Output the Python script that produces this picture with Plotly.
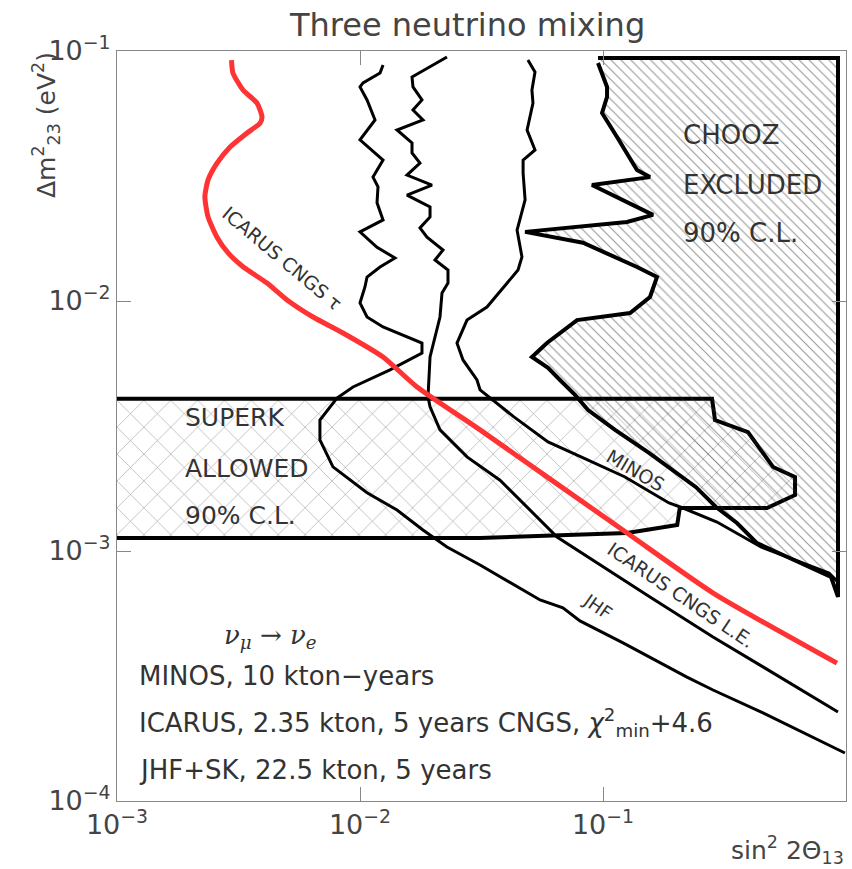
import plotly.graph_objects as go

# ---------------- data ----------------
# ICARUS CNGS tau (red)
icarus_tau_x = [0.00296, 0.00300, 0.00330, 0.00377, 0.00395, 0.00388, 0.00343, 0.00292, 0.00258,
                0.00237, 0.00230, 0.00237, 0.00258, 0.00286, 0.00330, 0.00414, 0.00501, 0.00641,
                0.00851, 0.01244, 0.01717, 0.0312, 0.1256, 0.284, 0.918]
icarus_tau_y = [0.0920, 0.0817, 0.0698, 0.0619, 0.0545, 0.0515, 0.0470, 0.0413, 0.0356,
                0.0305, 0.0261, 0.0217, 0.0180, 0.0156, 0.0137, 0.0118, 0.0101, 0.00863,
                0.00745, 0.00597, 0.00453, 0.00305, 0.00118, 0.000679, 0.000356]

# JHF+SK
jhf_x = [0.01244, 0.01209, 0.01029, 0.0100, 0.01069, 0.01153, 0.0100, 0.01244, 0.01131, 0.01186,
         0.01175, 0.01244, 0.0100, 0.01175, 0.01393, 0.01209, 0.01069, 0.01048, 0.0100, 0.01069,
         0.01244, 0.01561, 0.01799, 0.01799, 0.01329, 0.00936, 0.00804, 0.00684, 0.00684, 0.00774,
         0.01069, 0.01420, 0.01816, 0.0228, 0.0312, 0.0551, 0.0684, 0.0804, 0.1209, 0.2216,
         0.2836, 0.4553, 0.99]
jhf_y = [0.0879, 0.0817, 0.0745, 0.0718, 0.0637, 0.0530, 0.0441, 0.0366, 0.0313, 0.0286,
         0.0247, 0.0211, 0.0189, 0.0164, 0.01486, 0.01368, 0.01247, 0.01138, 0.00982, 0.00863,
         0.00787, 0.00718, 0.00679, 0.00619, 0.00530, 0.00453, 0.00409, 0.00334, 0.00278, 0.00217,
         0.00171, 0.001459, 0.001213, 0.001038, 0.000879, 0.000637, 0.000592, 0.000525, 0.000429, 0.000313,
         0.000278, 0.000225, 0.0001556]

# ICARUS CNGS L.E.
icarus_le_x = [0.0228, 0.01997, 0.01637, 0.01652, 0.01799, 0.01652, 0.01816, 0.01420, 0.01637, 0.01637,
               0.01765, 0.01561, 0.01978, 0.01561, 0.01942, 0.01942, 0.01765, 0.01887, 0.02196, 0.02035,
               0.02302, 0.02302, 0.02175, 0.02134, 0.01997, 0.01942, 0.01905, 0.01942, 0.02134, 0.02756,
               0.03769, 0.0647, 0.1561, 0.2836, 0.4553, 0.927]
icarus_le_y = [0.0946, 0.0879, 0.0787, 0.0718, 0.0637, 0.0581, 0.0530, 0.0483, 0.0429, 0.0391,
               0.0356, 0.0319, 0.0291, 0.0265, 0.0238, 0.0217, 0.0196, 0.0180, 0.0160, 0.01459,
               0.01330, 0.01180, 0.01076, 0.00863, 0.00655, 0.00597, 0.00413, 0.00377, 0.00305, 0.00238,
               0.00192, 0.001138, 0.000655, 0.000453, 0.000344, 0.000227]

# MINOS
minos_x = [0.0491, 0.0525, 0.0510, 0.0515, 0.0487, 0.0525, 0.0469, 0.0469, 0.0478, 0.0443,
           0.0464, 0.0447, 0.0333, 0.02756, 0.02507, 0.02654, 0.0303, 0.0312, 0.0430, 0.0594,
           0.0812, 0.1232, 0.1869, 0.2134, 0.2945, 0.4469, 0.851, 0.936]
minos_y = [0.0920, 0.0824, 0.0698, 0.0619, 0.0483, 0.0402, 0.0366, 0.0325, 0.0254, 0.0192,
           0.0150, 0.0133, 0.00946, 0.00839, 0.00679, 0.00581, 0.00483, 0.00441, 0.00344, 0.00273,
           0.00238, 0.001977, 0.001556, 0.001486, 0.001306, 0.001038, 0.000817, 0.000745]

# CHOOZ excluded region (closed outline)
chooz_x = [0.0954, 0.927, 0.927, 0.868, 0.4302, 0.3558, 0.2917, 0.2414, 0.1546, 0.1121,
           0.0868, 0.0767, 0.0665, 0.0594, 0.0510, 0.0588, 0.0782, 0.1292, 0.1561, 0.1668,
           0.1380, 0.0827, 0.0478, 0.1255, 0.1606, 0.0901, 0.1561, 0.1380, 0.1142, 0.0991,
           0.1039, 0.1039, 0.0954]
chooz_y = [0.0937, 0.0937, 0.000655, 0.000787, 0.001076, 0.001294, 0.0015, 0.0018, 0.00247, 0.00305,
           0.00366, 0.00421, 0.00483, 0.0054, 0.00597, 0.00679, 0.00839, 0.00895, 0.01038, 0.01247,
           0.01368, 0.0171, 0.0189, 0.0207, 0.0221, 0.0291, 0.0313, 0.0334, 0.0453, 0.0565,
           0.0655, 0.0718, 0.0895]

# SuperK allowed region (closed outline)
superk_x = [0.001, 0.281, 0.289, 0.395, 0.501, 0.617, 0.617, 0.473, 0.207, 0.202, 0.1256, 0.0312, 0.001]
superk_y = [0.00406, 0.00406, 0.00334, 0.00299, 0.002168, 0.001977, 0.001675, 0.001486, 0.001486,
            0.00127, 0.00118, 0.001127, 0.001127]

x_ticks = [0.001, 0.01, 0.1, 1]
x_tick_labels = ["10<sup>−3</sup>", "10<sup>−2</sup>", "10<sup>−1</sup>", "1"]
y_ticks = [0.0001, 0.001, 0.01, 0.1]
y_tick_labels = ["10<sup>−4</sup>", "10<sup>−3</sup>", "10<sup>−2</sup>", "10<sup>−1</sup>"]

# ---------------- figure ----------------
FONT = "DejaVu Sans"
TXT = "#333333"

fig = go.Figure()

fig.add_trace(go.Scatter(
    x=superk_x, y=superk_y, mode="lines", fill="toself",
    fillcolor="rgba(0,0,0,0)",
    fillpattern=dict(shape="x", fgcolor="#333333", bgcolor="rgba(0,0,0,0)", size=19, solidity=0.06),
    line=dict(color="black", width=4), hoverinfo="skip", showlegend=False))

fig.add_trace(go.Scatter(
    x=chooz_x, y=chooz_y, mode="lines", fill="toself",
    fillcolor="rgba(0,0,0,0)",
    fillpattern=dict(shape="\\", fgcolor="#333333", bgcolor="rgba(0,0,0,0)", size=7, solidity=0.16),
    line=dict(color="black", width=4), hoverinfo="skip", showlegend=False))

for xs, ys in [(jhf_x, jhf_y), (icarus_le_x, icarus_le_y), (minos_x, minos_y)]:
    fig.add_trace(go.Scatter(x=xs, y=ys, mode="lines",
                             line=dict(color="black", width=3),
                             hoverinfo="skip", showlegend=False))

fig.add_trace(go.Scatter(x=icarus_tau_x, y=icarus_tau_y, mode="lines",
                         line=dict(color="#ff3333", width=5, shape="spline", smoothing=0.6),
                         hoverinfo="skip", showlegend=False))

axis_common = dict(type="log", showgrid=False, zeroline=False, showline=True,
                   linecolor="#888888", linewidth=1, mirror="ticks", ticks="inside",
                   ticklen=14, tickcolor="#888888",
                   tickfont=dict(family=FONT, size=27, color="#444444"))

fig.update_xaxes(range=[-3, 0], tickvals=x_ticks, ticktext=x_tick_labels, **axis_common)
fig.update_yaxes(range=[-4, -1], tickvals=y_ticks, ticktext=y_tick_labels, **axis_common)

def px2paper(px, py):
    return (px - 117) / 729.0, (801 - py) / 750.0

annotations = []

def add_text(text, px, py, size, angle=0, xanchor="center", color=TXT, family=FONT):
    xp, yp = px2paper(px, py)
    annotations.append(dict(text=text, x=xp, y=yp, xref="paper", yref="paper",
                            showarrow=False, xanchor=xanchor, yanchor="middle",
                            textangle=angle, font=dict(family=family, size=size, color=color)))

add_text("Three neutrino mixing", 467, 25, 32, color="#444444")
add_text("CHOOZ", 681, 135, 26, xanchor="left")
add_text("EXCLUDED", 681, 185, 26, xanchor="left")
add_text("90% C.L.", 681, 233, 26, xanchor="left")
add_text("SUPERK", 183, 418, 25, xanchor="left")
add_text("ALLOWED", 183, 468, 25, xanchor="left")
add_text("90% C.L.", 183, 515, 25, xanchor="left")
add_text("ICARUS CNGS τ", 282, 258, 19, angle=40)
add_text("MINOS", 635, 470, 19, angle=30)
add_text("ICARUS CNGS L.E.", 681, 595, 19, angle=34)
add_text("JHF", 598, 606, 18, angle=35)
add_text("<i>ν<sub>μ</sub> → ν<sub>e</sub></i>", 222, 636, 26, xanchor="left", family="DejaVu Serif")
add_text("MINOS, 10 kton−years", 137, 676, 26, xanchor="left")
add_text("ICARUS, 2.35 kton, 5 years CNGS, <i>χ</i><sup>2</sup><sub>min</sub>+4.6", 137, 722, 26, xanchor="left")
add_text("JHF+SK, 22.5 kton, 5 years", 137, 770, 26, xanchor="left")
add_text("sin<sup>2</sup> 2Θ<sub>13</sub>", 846, 850, 25, xanchor="right", color="#444444")
add_text("Δm<sup>2</sup><sub>23</sub> (eV<sup>2</sup>)", 46, 125, 25, angle=-90, color="#444444")

fig.update_layout(width=852, height=869, margin=dict(l=117, r=6, t=51, b=68),
                  paper_bgcolor="white", plot_bgcolor="white",
                  annotations=annotations, showlegend=False)

fig.write_html("out.html")
